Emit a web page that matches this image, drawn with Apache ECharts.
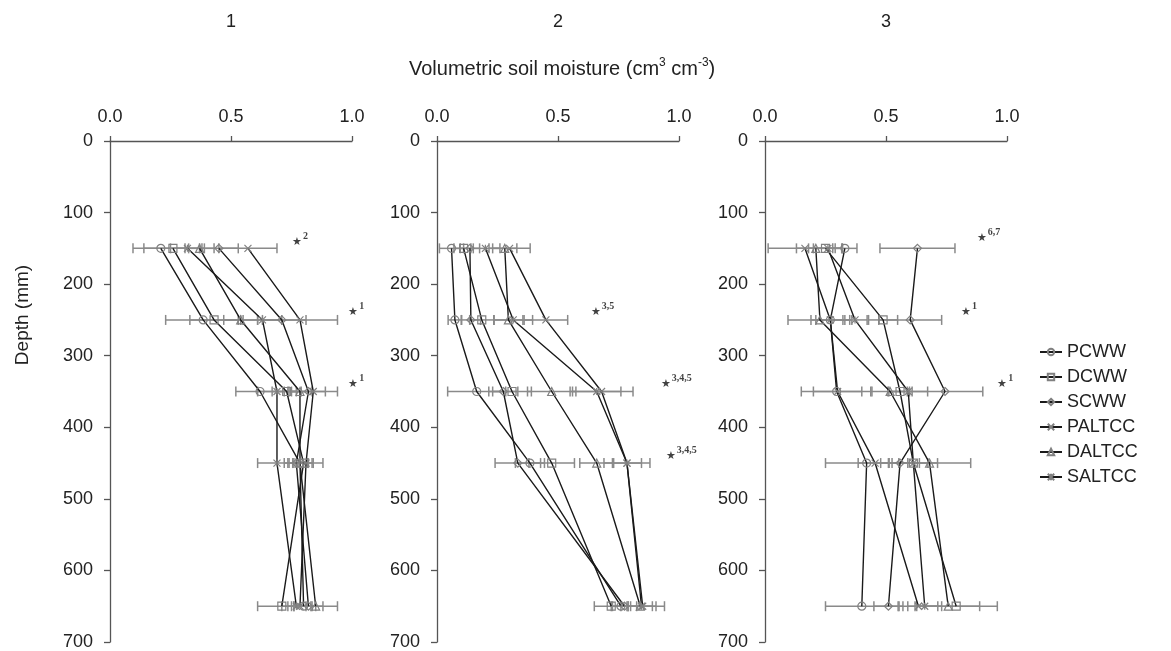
<!DOCTYPE html>
<html><head><meta charset="utf-8">
<script src="https://cdn.jsdelivr.net/npm/echarts@6/dist/echarts.min.js"></script>
<style>html,body{margin:0;padding:0;background:#fff}#c{width:1171px;height:651px}</style>
</head><body><div id="c"></div>
<script>
// ---------- data ----------
const seriesNames = ['PCWW', 'DCWW', 'SCWW', 'PALTCC', 'DALTCC', 'SALTCC'];
const depths = [150, 250, 350, 450, 650];
const panelTitles = ['1', '2', '3'];
const depthAxisName = 'Depth (mm)';

// moisture (cm3 cm-3) per series (rows follow seriesNames), per depth
const panel1Moisture = [
  [0.21, 0.385, 0.62, 0.785, 0.80],
  [0.26, 0.43, 0.73, 0.80, 0.71],
  [0.45, 0.71, 0.82, 0.77, 0.82],
  [0.57, 0.785, 0.84, 0.81, 0.785],
  [0.37, 0.54, 0.785, 0.785, 0.85],
  [0.32, 0.63, 0.69, 0.69, 0.77]
];
const panel1Error = [
  [0.115, 0.155, 0.10, 0.05, 0.05],
  [0.12, 0.10, 0.06, 0.04, 0.10],
  [0.08, 0.10, 0.07, 0.05, 0.06],
  [0.12, 0.155, 0.10, 0.07, 0.05],
  [0.06, 0.07, 0.05, 0.03, 0.09],
  [0.07, 0.08, 0.08, 0.08, 0.06]
];
const panel2Moisture = [
  [0.06, 0.074, 0.164, 0.384, 0.76],
  [0.11, 0.185, 0.31, 0.474, 0.72],
  [0.136, 0.14, 0.274, 0.334, 0.775],
  [0.30, 0.45, 0.68, 0.785, 0.85],
  [0.28, 0.295, 0.474, 0.66, 0.84],
  [0.20, 0.315, 0.66, 0.785, 0.845]
];
const panel2Error = [
  [0.05, 0.028, 0.12, 0.06, 0.04],
  [0.04, 0.05, 0.08, 0.094, 0.07],
  [0.04, 0.04, 0.06, 0.094, 0.05],
  [0.085, 0.09, 0.13, 0.095, 0.09],
  [0.05, 0.06, 0.10, 0.07, 0.05],
  [0.06, 0.08, 0.10, 0.06, 0.06]
];
const panel3Moisture = [
  [0.33, 0.27, 0.296, 0.42, 0.40],
  [0.25, 0.488, 0.558, 0.613, 0.79],
  [0.63, 0.60, 0.744, 0.558, 0.51],
  [0.165, 0.27, 0.30, 0.455, 0.634],
  [0.21, 0.227, 0.517, 0.68, 0.757],
  [0.26, 0.372, 0.592, 0.613, 0.66]
];
const panel3Error = [
  [0.05, 0.06, 0.146, 0.17, 0.15],
  [0.07, 0.06, 0.05, 0.10, 0.17],
  [0.155, 0.13, 0.156, 0.08, 0.06],
  [0.152, 0.08, 0.10, 0.07, 0.08],
  [0.08, 0.132, 0.08, 0.17, 0.13],
  [0.06, 0.05, 0.08, 0.06, 0.07]
];
// significance notes: [moisture, depth, superscript]
const panel1Notes = [[0.752, 138, '2'], [0.985, 236, '1'], [0.985, 336, '1']];
const panel2Notes = [[0.635, 236, '3,5'], [0.925, 336, '3,4,5'], [0.945, 436, '3,4,5']];
const panel3Notes = [[0.875, 132, '6,7'], [0.81, 235, '1'], [0.96, 336, '1']];

const panelsMoisture = [panel1Moisture, panel2Moisture, panel3Moisture];
const panelsError = [panel1Error, panel2Error, panel3Error];
const panelsNotes = [panel1Notes, panel2Notes, panel3Notes];

// ---------- style ----------
const FONT = 'Liberation Sans, Arial, sans-serif';
const TXT = '#222';
const AXC = '#555';
const MARK = '#808080';
const symbols = [
  'circle',
  'rect',
  'diamond',
  'path://M0,0L10,10M10,0L0,10',
  'triangle',
  'path://M0,0L10,10M10,0L0,10M5,0L5,10'
];
const gridLefts = [110, 437, 765];
const gridW = 242, gridTop = 141, gridH = 501;

const chart = echarts.init(document.getElementById('c'), null, {renderer: 'canvas'});

const grids = [], xAxes = [], yAxes = [], series = [], titles = [];
for (let p = 0; p < 3; p++) {
  grids.push({left: gridLefts[p], top: gridTop, width: gridW, height: gridH});
  xAxes.push({
    gridIndex: p, type: 'value', position: 'top', min: 0, max: 1, interval: 0.5,
    axisLine: {show: true, lineStyle: {color: AXC, width: 1.3}},
    axisTick: {show: true, length: 5, lineStyle: {color: AXC, width: 1.3}},
    axisLabel: {margin: 15, fontSize: 18, color: TXT, fontFamily: FONT, formatter: v => v.toFixed(1)},
    splitLine: {show: false}
  });
  yAxes.push({
    gridIndex: p, type: 'value', inverse: true, min: 0, max: 700, interval: 100,
    axisLine: {show: true, lineStyle: {color: AXC, width: 1.3}},
    axisTick: {show: true, length: 6, lineStyle: {color: AXC, width: 1.3}},
    axisLabel: {margin: 17, fontSize: 18, color: TXT, fontFamily: FONT},
    splitLine: {show: false}
  });
  titles.push({
    text: panelTitles[p], left: gridLefts[p] + gridW / 2 - 10, top: 8,
    textStyle: {fontSize: 18, fontWeight: 'normal', color: TXT, fontFamily: FONT}
  });

  // error bars
  const errData = [];
  panelsMoisture[p].forEach((row, s) => {
    row.forEach((v, d) => errData.push([v, depths[d], panelsError[p][s][d]]));
  });
  series.push({
    type: 'custom', xAxisIndex: p, yAxisIndex: p, z: 1, silent: true,
    data: errData,
    renderItem: function (params, api) {
      const x = api.value(0), y = api.value(1), e = api.value(2);
      const a = api.coord([x - e, y]), b = api.coord([x + e, y]);
      const st = {stroke: '#8a8a8a', lineWidth: 1.5};
      return {type: 'group', children: [
        {type: 'line', shape: {x1: a[0], y1: a[1], x2: b[0], y2: b[1]}, style: st},
        {type: 'line', shape: {x1: a[0], y1: a[1] - 5, x2: a[0], y2: a[1] + 5}, style: st},
        {type: 'line', shape: {x1: b[0], y1: b[1] - 5, x2: b[0], y2: b[1] + 5}, style: st}
      ]};
    }
  });

  // profile lines
  seriesNames.forEach((nm, s) => {
    series.push({
      type: 'line', name: nm, xAxisIndex: p, yAxisIndex: p, z: 3,
      data: panelsMoisture[p][s].map((v, d) => [v, depths[d]]),
      symbol: symbols[s], symbolSize: s === 3 || s === 5 ? 7 : 8,
      showSymbol: true,
      lineStyle: {color: '#1a1a1a', width: 1.4},
      itemStyle: {color: 'rgba(255,255,255,0)', borderColor: MARK, borderWidth: 1.2},
      emphasis: {disabled: true},
      animation: false
    });
  });

  // significance notes
  series.push({
    type: 'scatter', xAxisIndex: p, yAxisIndex: p, z: 4, silent: true,
    symbolSize: 0,
    data: panelsNotes[p].map(n => ({value: [n[0], n[1]], sup: n[2]})),
    label: {
      show: true, position: 'right', distance: 0,
      formatter: pr => '{s|★}{t|' + pr.data.sup + '}',
      rich: {
        s: {fontSize: 11, color: '#111', verticalAlign: 'bottom'},
        t: {fontSize: 10, color: '#111', fontFamily: 'Liberation Serif, serif', fontWeight: 'bold', padding: [0, 0, 6, 1]}
      }
    }
  });
}

titles.push({
  text: 'Volumetric soil moisture (cm{s|3} cm{s|-3})',
  left: 404, top: 52,
  textStyle: {
    fontSize: 20, fontWeight: 'normal', color: TXT, fontFamily: FONT,
    rich: {s: {fontSize: 12, color: TXT, fontFamily: FONT, padding: [0, 0, 12, 0]}}
  }
});

chart.setOption({
  animation: false,
  backgroundColor: '#fff',
  title: titles,
  grid: grids,
  xAxis: xAxes,
  yAxis: yAxes,
  graphic: [{
    type: 'text', x: 23, y: 315, rotation: Math.PI / 2,
    style: {text: depthAxisName, fontSize: 19, fill: TXT, fontFamily: FONT, textAlign: 'center', textVerticalAlign: 'middle'}
  }],
  legend: {
    data: seriesNames, orient: 'vertical', left: 1034, top: 338,
    itemWidth: 22, itemHeight: 8, itemGap: 7,
    textStyle: {fontSize: 18, color: TXT, fontFamily: FONT}
  },
  series: series
});
</script></body></html>
